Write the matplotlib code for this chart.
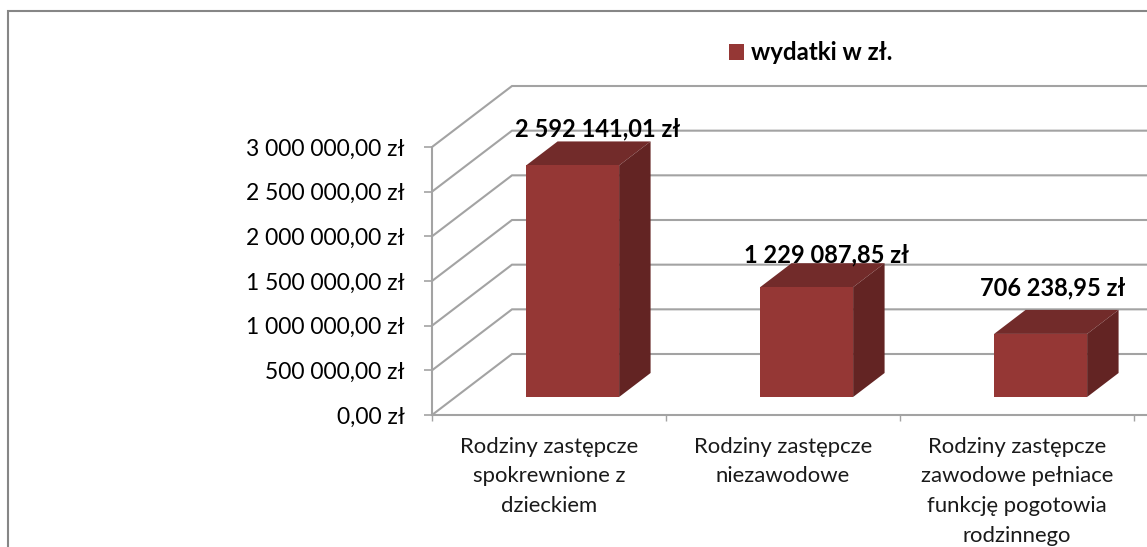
import matplotlib
matplotlib.use("Agg")
import matplotlib.pyplot as plt
from matplotlib.lines import Line2D
from matplotlib.patches import Patch, Polygon

# Dane
kategorie = [
    "Rodziny zastępcze\nspokrewnione z\ndzieckiem",
    "Rodziny zastępcze\nniezawodowe",
    "Rodziny zastępcze\nzawodowe pełniace\nfunkcję pogotowia\nrodzinnego",
]
wydatki = [2592141.01, 1229087.85, 706238.95]
etykiety = ["2 592 141,01 zł", "1 229 087,85 zł", "706 238,95 zł"]
wartosci_osi = [0, 500000, 1000000, 1500000, 2000000, 2500000, 3000000]
etykiety_osi = [
    "0,00 zł",
    "500 000,00 zł",
    "1 000 000,00 zł",
    "1 500 000,00 zł",
    "2 000 000,00 zł",
    "2 500 000,00 zł",
    "3 000 000,00 zł",
]

# Wyglad
W, H = 1147, 547
SZARY = "#a3a3a3"
PRZOD = "#953735"
GORA = "#722b2a"
BOK = "#632423"
plt.rcParams["font.family"] = ["Lato", "DejaVu Sans"]

fig = plt.figure(figsize=(W / 100, H / 100), dpi=100)

# os: 0 zl na y=415 px, 3 mln na y=147 px, jedna kategoria = 234 px
px_y = 3000000 / 268
ax = fig.add_axes([432 / W, (H - 415) / H, (W - 432) / W, 415 / H])
ax.set_xlim(0, (W - 432) / 234)
ax.set_ylim(0, 415 * px_y)
ax.patch.set_visible(False)

# glebokosc wykresu 3D
glab_x = 80 / 234
glab_y = 61 * px_y

# siatka: skos po lewej scianie i linia na tylnej scianie
for v in wartosci_osi:
    ax.plot(
        [0, glab_x, ax.get_xlim()[1]],
        [v, v + glab_y, v + glab_y],
        color=SZARY,
        lw=1.5,
        zorder=1,
        solid_joinstyle="miter",
    )

# slupki
szer = 93 / 234
start = 18 / 61  # przod slupka wzgledem podlogi
koniec = 42 / 61  # tyl slupka
for i, v in enumerate(wydatki):
    x0 = i + 0.5 - szer / 2 + glab_x * start
    x1 = x0 + szer
    y0 = glab_y * start
    y1 = y0 + v
    dx = glab_x * (koniec - start)
    dy = glab_y * (koniec - start)
    ax.add_patch(
        Polygon(
            [(x0, y1), (x1, y1), (x1 + dx, y1 + dy), (x0 + dx, y1 + dy)],
            fc=GORA,
            ec="none",
            zorder=3,
        )
    )
    ax.add_patch(
        Polygon(
            [(x1, y0), (x1 + dx, y0 + dy), (x1 + dx, y1 + dy), (x1, y1)],
            fc=BOK,
            ec="none",
            zorder=3,
        )
    )
    ax.add_patch(
        Polygon(
            [(x0, y0), (x1, y0), (x1, y1), (x0, y1)],
            fc=PRZOD,
            ec="none",
            zorder=3,
        )
    )

# etykiety nad slupkami (przesuniecie w punktach, recznie dopasowane)
przesuniecia = [(18, 9), (14.5, 6), (9, 15.5)]
for i, v in enumerate(wydatki):
    x_gora = i + 0.5 + glab_x * start
    y_gora = glab_y * koniec + v
    ax.annotate(
        etykiety[i],
        (x_gora, y_gora),
        xytext=przesuniecia[i],
        textcoords="offset points",
        ha="center",
        va="center",
        fontsize=17,
        fontweight="bold",
        color="black",
        zorder=5,
        annotation_clip=False,
    )

# osie
for s in ["top", "right"]:
    ax.spines[s].set_visible(False)
ax.spines["left"].set_bounds(0, 3000000)
ax.spines["left"].set_color(SZARY)
ax.spines["left"].set_linewidth(1.5)
ax.spines["bottom"].set_color(SZARY)
ax.spines["bottom"].set_linewidth(1.5)
ax.set_yticks(wartosci_osi, etykiety_osi, fontsize=16.5, color="black")
ax.tick_params(axis="y", length=5.8, width=1.2, color=SZARY, pad=14)
for t in ax.get_yticklabels():
    t.set_verticalalignment("center_baseline")
ax.set_xticks(range(len(kategorie) + 1), [""] * (len(kategorie) + 1))
ax.tick_params(axis="x", which="major", length=4.5, width=1, color=SZARY)
ax.set_xticks([i + 0.5 for i in range(len(kategorie))], kategorie, minor=True)
ax.tick_params(
    axis="x", which="minor", length=0, labelsize=15.9, pad=15.5, labelcolor="#1a1a1a"
)
for t in ax.get_xticklabels(minor=True):
    t.set_linespacing(1.62)
    t.set_verticalalignment("top")

# legenda
fig.legend(
    handles=[Patch(fc=PRZOD, ec="none", label="wydatki w zł.")],
    loc="center left",
    bbox_to_anchor=(729 / W, (H - 53) / H),
    frameon=False,
    borderpad=0,
    borderaxespad=0,
    handlelength=0.63,
    handleheight=0.63,
    handletextpad=0.29,
    prop={"weight": "bold", "size": 17.3},
)

# ramka wykresu
ramka = Line2D(
    [8 / W, 8 / W, 1],
    [0, (H - 11) / H, (H - 11) / H],
    transform=fig.transFigure,
    color="#868686",
    lw=1.5,
    solid_joinstyle="miter",
)
fig.add_artist(ramka)

fig.savefig("out.png", dpi=100)
